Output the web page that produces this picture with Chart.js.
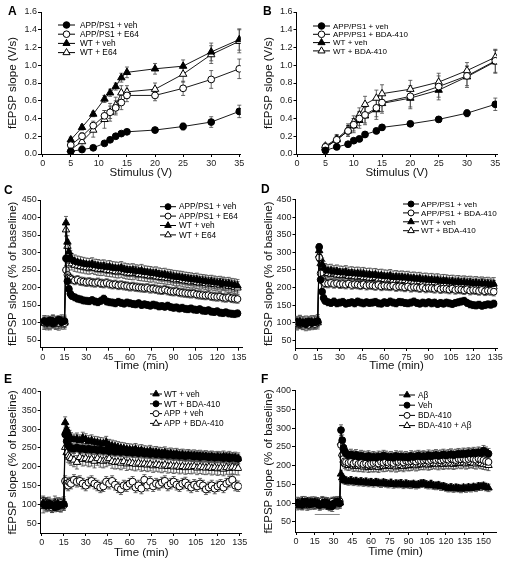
<!DOCTYPE html>
<html><head><meta charset="utf-8">
<script src="https://cdn.jsdelivr.net/npm/chart.js@4.4.1/dist/chart.umd.min.js"></script>
<style>
body{margin:0;background:#fff;width:512px;height:562px;position:relative;overflow:hidden;font-family:"Liberation Sans",Arial,sans-serif}
canvas{position:absolute}
.lt{position:absolute;font:bold 12px "Liberation Sans",Arial,sans-serif;line-height:12px;color:#000}
</style></head><body>
<canvas id="cA" width="256" height="180" style="left:0px;top:0px"></canvas>
<canvas id="cB" width="256" height="180" style="left:256px;top:0px"></canvas>
<canvas id="cC" width="256" height="193" style="left:0px;top:180px"></canvas>
<canvas id="cD" width="256" height="193" style="left:256px;top:180px"></canvas>
<canvas id="cE" width="256" height="189" style="left:0px;top:373px"></canvas>
<canvas id="cF" width="256" height="189" style="left:256px;top:373px"></canvas>
<div class="lt" style="left:8px;top:5px">A</div>
<div class="lt" style="left:263px;top:5px">B</div>
<div class="lt" style="left:4px;top:184px">C</div>
<div class="lt" style="left:261px;top:183px">D</div>
<div class="lt" style="left:4px;top:373px">E</div>
<div class="lt" style="left:261px;top:373px">F</div>
<script>
// ---------- Panels A & B : input/output ----------
const stimA = [5,7,9,11,12,13,14,15,20,25,30,35];
const A_appVeh = [0.03,0.05,0.07,0.12,0.16,0.20,0.23,0.25,0.27,0.31,0.36,0.48];
const A_appE64 = [0.10,0.20,0.32,0.43,0.47,0.52,0.58,0.66,0.66,0.74,0.84,0.96];
const A_wtVeh  = [0.16,0.30,0.45,0.62,0.69,0.76,0.86,0.92,0.96,0.99,1.15,1.29];
const A_wtE64  = [0.05,0.14,0.27,0.39,0.47,0.55,0.69,0.70,0.73,0.90,1.12,1.27];
const A_appVehErr = [0.01,0.01,0.02,0.02,0.02,0.02,0.02,0.02,0.03,0.04,0.06,0.07];
const A_appE64Err = [0.03,0.04,0.05,0.06,0.07,0.08,0.08,0.07,0.06,0.08,0.10,0.11];
const A_wtVehErr  = [0.03,0.03,0.03,0.04,0.04,0.04,0.05,0.06,0.06,0.07,0.10,0.12];
const A_wtE64Err  = [0.04,0.05,0.08,0.10,0.10,0.09,0.08,0.07,0.07,0.09,0.10,0.13];

const stimB = [5,7,9,10,11,12,14,15,20,25,30,35];
const B_appVeh = [0.04,0.08,0.11,0.15,0.17,0.22,0.26,0.30,0.34,0.39,0.46,0.56];
const B_appBDA = [0.08,0.16,0.26,0.33,0.40,0.44,0.52,0.58,0.65,0.76,0.88,1.05];
const B_wtVeh  = [0.07,0.16,0.26,0.32,0.38,0.43,0.50,0.57,0.63,0.72,0.87,1.04];
const B_wtBDA  = [0.09,0.17,0.28,0.36,0.44,0.56,0.63,0.68,0.73,0.81,0.94,1.09];
const B_appVehErr = [0.02,0.02,0.02,0.02,0.03,0.03,0.03,0.03,0.03,0.03,0.04,0.07];
const B_appBDAErr = [0.03,0.04,0.06,0.07,0.08,0.09,0.10,0.10,0.12,0.12,0.11,0.13];
const B_wtVehErr  = [0.03,0.05,0.06,0.08,0.09,0.10,0.11,0.11,0.12,0.11,0.12,0.13];
const B_wtBDAErr  = [0.03,0.05,0.06,0.07,0.08,0.09,0.09,0.10,0.10,0.10,0.09,0.08];

const xTicksAB = [0,5,10,15,20,25,30,35];
const yTicksAB = [0,0.2,0.4,0.6,0.8,1.0,1.2,1.4,1.6];

// ---------- Panels C, D, E : LTP time course (min) ----------
const timeCDE = [1,3,5,7,9,11,13,15,16,17,18,19,20,22,24,26,28,30,32,34,36,38,40,42,44,46,48,50,52,54,56,58,60,62,64,66,68,70,72,74,76,78,80,82,84,86,88,90,92,94,96,98,100,102,104,106,108,110,112,114,116,118,120,122,124,126,128,130,132,134];

const C_appVeh = [104,100,106,98,103,108,101,104, 283,218,196,182,176,
 172,168,166,163,162, 161,164,160,158,162, 168,160,158,157,155, 159,156,154,157,155,
 153,152,155,150,152, 150,148,151,149,146, 147,145,148,144,142, 143,140,142,139,138,
 140,137,136,138,134, 133,135,131,130,132, 128,127,129,126,125, 124,126];
const C_appE64 = [100,98,102,97,100,99,103,98, 250,236,229,226,223,
 220,222,218,217,215, 216,214,213,215,212, 211,213,210,208,209, 206,207,205,204,202,
 203,201,200,199,198, 199,196,197,195,193, 192,194,191,189,188, 189,186,185,184,183,
 182,183,180,179,178, 177,178,175,174,173, 174,171,170,172,169, 168,167];
const C_wtVeh = [98,101,97,102,100,96,104,99, 385,330,302,288,279,
 275,272,270,268,266, 265,267,263,262,260, 261,258,259,256,255, 254,256,252,250,249,
 250,247,246,248,244, 243,242,240,241,238, 236,237,234,233,231, 230,229,228,226,225,
 224,222,223,220,219, 218,216,217,215,213, 214,212,210,211,208, 207,205];
const C_wtE64 = [102,97,100,104,98,101,99,103, 365,318,292,276,268,
 264,262,260,259,257, 256,258,255,253,252, 253,250,249,248,246, 245,247,244,242,241,
 240,242,238,237,236, 235,233,234,231,230, 229,228,226,227,224, 222,223,220,219,218,
 216,217,215,213,214, 212,210,211,209,208, 207,209,205,204,203, 201,199];
const C_sem = [10,12,18,18];

const D_appVeh = [102,98,100,96,103,99,101,104, 315,222,188,170,162,
 158,156,160,155,157, 159,154,156,158,155, 160,157,155,158,156, 157,159,155,154,158,
 156,160,157,155,159, 158,156,155,157,160, 156,154,157,155,158, 155,157,153,156,154,
 157,155,153,156,158, 160,162,156,152,150, 149,151,148,150,152, 151,154];
const D_appBDA = [98,95,100,97,94,99,96,101, 285,240,224,216,212,
 211,213,210,212,209, 210,208,211,207,209, 208,206,209,205,207, 206,204,207,203,205,
 204,203,205,201,203, 202,200,203,199,201, 200,198,201,197,199, 198,196,199,195,197,
 196,194,197,193,195, 194,192,195,191,193, 192,190,193,189,191, 190,188];
const D_wtVeh = [100,103,98,101,97,102,99,105, 305,282,266,256,250,
 247,248,244,246,243, 242,244,240,241,239, 240,238,239,236,237, 235,236,233,234,232,
 231,233,229,230,228, 229,227,228,225,226, 224,225,222,223,221, 222,220,221,218,219,
 218,216,217,215,216, 214,215,213,214,212, 213,211,212,210,211, 209,210];
const D_wtBDA = [97,101,99,95,100,98,102,100, 292,268,255,247,243,
 240,238,239,236,235, 234,236,232,233,231, 230,232,228,229,227, 226,228,224,225,223,
 222,224,221,220,222, 219,220,217,218,216, 215,217,214,215,213, 212,214,211,212,210,
 211,209,210,208,209, 207,209,206,208,205, 206,204,207,205,203, 204,202];
const D_sem = [10,12,18,18];

const E_wtVeh = [104,100,97,94,99,102,96,100, 318,300,290,282,276,
 272,275,270,277,273, 268,270,266,265,263, 262,266,258,256,254, 252,250,249,247,246,
 245,247,243,244,241, 240,242,238,239,237, 236,238,234,235,233, 234,231,232,230,231,
 229,230,228,229,227, 228,226,227,225,226, 225,227,224,226,223, 224,222];
const E_wtBDA = [100,96,102,98,92,95,99,101, 286,268,258,252,250,
 248,251,247,249,246, 248,245,247,244,246, 243,245,241,243,240, 242,239,241,238,240,
 237,239,236,238,235, 237,234,236,233,235, 232,234,231,233,230, 232,229,231,228,230,
 229,227,229,226,228, 227,225,227,224,226, 225,223,226,222,224, 223,221];
const E_appVeh = [108,104,97,92,100,95,103,98, 162,155,150,158,155,
 165,160,162,155,150, 158,162,155,150,145, 148,160,155,162,152, 145,140,150,148,155,
 160,145,150,142,165, 150,160,148,155,152, 158,162,150,155,160, 152,148,155,158,150,
 145,152,148,155,150, 140,145,150,142,148, 152,145,155,160,165, 150,148];
const E_appBDA = [95,98,101,96,104,99,97,102, 252,238,230,226,222,
 218,212,225,220,222, 218,220,215,222,217, 215,218,222,214,212, 213,210,214,208,211,
 209,207,210,206,208, 205,207,203,206,204, 202,205,201,203,200, 202,199,201,198,200,
 199,201,197,200,198, 197,199,196,198,195, 197,194,198,196,199, 197,196];
const E_sem = [15,12,14,18];

const xTicksCDE = [0,15,30,45,60,75,90,105,120,135];
const yTicksCD = [50,100,150,200,250,300,350,400,450];
const yTicksEF = [50,100,150,200,250,300,350,400];

// ---------- Panel F ----------
const timeF = [1,3,5,7,9,11,13,15,17,19,21,23,25,27,29,31,33,35,36,37,38,39,40,42,44,46,48,50,52,54,56,58,60,62,64,66,68,70,72,74,76,78,80,82,84,86,88,90,92,94,96,98,100,102,104,106,108,110,112,114,116,118,120,122,124,126,128,130,132,134,136,138,140,142,144,146,148,150,152,154];
const F_abeta = [100,95,103,98,104,100,97,102,99,96,101,98,94,90,97,100,103,101, 178,168,163,161,160,
 158,161,157,159,156, 158,155,157,154,156, 153,156,154,152,155, 153,151,154,150,152,
 151,153,149,152,150, 149,151,148,150,152, 153,150,148,151,147, 146,148,144,145,142,
 140,142,139,141,140, 138,141,139,142,140, 143,141,145,144,146, 143,141];
const F_veh = [102,98,96,104,100,97,103,99,101,95,98,102,100,97,92,101,104,100, 295,268,248,238,232,
 228,230,226,229,224, 227,225,223,226,222, 224,221,225,223,227, 225,222,224,221,226,
 223,225,222,224,221, 226,223,225,227,224, 226,224,228,225,227, 229,226,228,230,227,
 229,231,228,230,232, 230,233,231,234,232, 235,233,236,234,240, 236,232];
const F_bda = [98,102,95,100,97,104,101,96,103,99,106,101,97,100,104,98,102,105, 255,228,218,212,210,
 208,210,206,209,205, 207,204,206,203,205, 207,209,206,210,208, 211,208,210,207,212,
 210,212,209,213,211, 212,214,211,215,213, 214,216,213,215,217, 215,217,214,216,218,
 216,219,217,215,218, 217,219,216,218,220, 218,216,219,217,215, 212,210];
const F_bdaAbeta = [96,100,104,99,95,101,98,103,100,97,102,99,101,96,100,103,98,102, 262,232,215,207,203,
 201,203,199,200,198, 199,197,200,196,198, 197,199,196,200,198, 199,201,198,200,197,
 199,201,198,202,200, 201,203,200,202,204, 203,205,202,204,206, 205,203,206,204,207,
 205,207,204,206,208, 206,208,205,207,209, 207,205,208,206,204, 203,201];
const F_sem = [10,14,12,14];
const F_drugX = [15,35];
const F_drugY = [70,70];
const xTicksF = [0,15,30,45,60,75,90,105,120,135,150];

// ---------- helpers ----------
const FONT = '"Liberation Sans", Arial, sans-serif';
const xy = (xs, ys) => xs.map((x, i) => ({x: x, y: ys[i]}));

function series(label, xs, ys, kind, err, r) {
  const filled = kind[0] === 'f';
  const shape = kind[1] === 'c' ? 'circle' : 'triangle';
  return {
    label, data: xy(xs, ys), err,
    borderColor: '#000', borderWidth: 0.9,
    backgroundColor: filled ? '#000' : '#fff',
    pointBackgroundColor: filled ? '#000' : '#fff',
    pointBorderColor: '#000', pointBorderWidth: 1,
    pointStyle: shape, pointRadius: shape === 'triangle' ? r + 0.9 : r,
    tension: 0, fill: false
  };
}

const errPlugin = {
  id: 'errbars',
  beforeDatasetsDraw(chart) {
    const ctx = chart.ctx, ys = chart.scales.y;
    ctx.save();
    ctx.strokeStyle = '#444'; ctx.lineWidth = 0.8;
    chart.data.datasets.forEach((ds, i) => {
      if (ds.err === undefined) return;
      const meta = chart.getDatasetMeta(i);
      meta.data.forEach((pt, j) => {
        const v = ds.data[j].y;
        const e = Array.isArray(ds.err) ? ds.err[j] : ds.err;
        const y1 = ys.getPixelForValue(v + e), y2 = ys.getPixelForValue(v - e);
        ctx.beginPath();
        ctx.moveTo(pt.x, y1); ctx.lineTo(pt.x, y2);
        ctx.moveTo(pt.x - 2, y1); ctx.lineTo(pt.x + 2, y1);
        ctx.moveTo(pt.x - 2, y2); ctx.lineTo(pt.x + 2, y2);
        ctx.stroke();
      });
    });
    ctx.restore();
  }
};

function legendPlugin(L) {
  return {
    id: 'lgd',
    afterDraw(chart) {
      const ctx = chart.ctx;
      ctx.save();
      let k = 0;
      chart.data.datasets.forEach(ds => {
        if (!ds.label) return;
        const y = L.y + k * L.dy; k++;
        ctx.strokeStyle = '#000'; ctx.lineWidth = 1;
        ctx.beginPath(); ctx.moveTo(L.x0, y); ctx.lineTo(L.x1, y); ctx.stroke();
        ctx.fillStyle = ds.pointBackgroundColor; ctx.strokeStyle = '#000';
        Chart.helpers.drawPoint(ctx, {pointStyle: ds.pointStyle, rotation: 0,
          radius: ds.pointStyle === 'triangle' ? L.r + 0.8 : L.r, borderWidth: 1},
          (L.x0 + L.x1) / 2, y);
        ctx.fillStyle = '#000';
        ctx.font = L.fs + 'px ' + FONT;
        ctx.textBaseline = 'middle'; ctx.textAlign = 'left';
        ctx.fillText(ds.label, L.tx, y + 0.5);
      });
      ctx.restore();
    }
  };
}

function makePanel(id, P) {
  const axisCommon = {
    type: 'linear',
    grid: {drawOnChartArea: false, drawTicks: true, tickLength: 3, color: '#000', lineWidth: 1},
    border: {display: true, color: '#000', width: 1},
  };
  new Chart(document.getElementById(id), {
    type: 'line',
    data: {datasets: P.datasets},
    options: {
      responsive: false, animation: false, devicePixelRatio: 1,
      events: [],
      layout: {padding: {left: 0, top: P.padT, right: P.padR, bottom: 0}},
      plugins: {legend: {display: false}, tooltip: {enabled: false}},
      scales: {
        x: Object.assign({}, axisCommon, {
          min: P.xMin, max: P.xMax,
          afterFit: s => { s.height = P.xH; },
          afterBuildTicks: s => { s.ticks = P.xTicks.map(v => ({value: v})); },
          ticks: {autoSkip: false, maxRotation: 0, minRotation: 0, padding: 1, color: '#222',
                  font: {size: 9, family: FONT}},
          title: {display: true, text: P.xTitle, color: '#111', font: {size: 11.5, family: FONT},
                  padding: {top: 0, bottom: P.xTitlePad}}
        }),
        y: Object.assign({}, axisCommon, {
          min: P.yMin, max: P.yMax,
          afterFit: s => { s.width = P.yW; },
          afterBuildTicks: s => { s.ticks = P.yTicks.map(v => ({value: v})); },
          ticks: {autoSkip: false, padding: 1, color: '#222', font: {size: 9, family: FONT},
                  callback: P.yFmt || (v => String(v))},
          title: {display: true, text: P.yTitle, color: '#111', font: {size: 11.5, family: FONT},
                  padding: {top: 6, bottom: 0}}
        })
      }
    },
    plugins: [errPlugin, legendPlugin(P.legend)]
  });
}

// ---------- Panel A ----------
makePanel('cA', {
  datasets: [
    series('APP/PS1 + veh', stimA, A_appVeh, 'fc', A_appVehErr, 3.4),
    series('APP/PS1 + E64', stimA, A_appE64, 'oc', A_appE64Err, 3.4),
    series('WT + veh', stimA, A_wtVeh, 'ft', A_wtVehErr, 3.4),
    series('WT + E64', stimA, A_wtE64, 'ot', A_wtE64Err, 3.4)
  ],
  padT: 12, padR: 15.3, yW: 41, xH: 26,
  xMin: -0.3, xMax: 35.25, yMin: 0, yMax: 1.6,
  xTicks: xTicksAB, yTicks: yTicksAB, yFmt: v => v.toFixed(1),
  xTitle: 'Stimulus (V)', yTitle: 'fEPSP slope (V/s)', xTitlePad: 0.4,
  legend: {x0: 58, x1: 75, tx: 80, y: 25, dy: 9.2, r: 3.3, fs: 8.3}
});

// ---------- Panel B ----------
makePanel('cB', {
  datasets: [
    series('APP/PS1 + veh', stimB, B_appVeh, 'fc', B_appVehErr, 3.4),
    series('APP/PS1 + BDA-410', stimB, B_appBDA, 'oc', B_appBDAErr, 3.4),
    series('WT + veh', stimB, B_wtVeh, 'ft', B_wtVehErr, 3.4),
    series('WT + BDA-410', stimB, B_wtBDA, 'ot', B_wtBDAErr, 3.4)
  ],
  padT: 12, padR: 15, yW: 40.5, xH: 26,
  xMin: -0.1, xMax: 35.3, yMin: 0, yMax: 1.6,
  xTicks: xTicksAB, yTicks: yTicksAB, yFmt: v => v.toFixed(1),
  xTitle: 'Stimulus (V)', yTitle: 'fEPSP slope (V/s)', xTitlePad: 0.4,
  legend: {x0: 57, x1: 74, tx: 77, y: 26, dy: 8.3, r: 3.3, fs: 8}
});

// ---------- Panel C ----------
makePanel('cC', {
  datasets: [
    series('APP/PS1 + veh', timeCDE, C_appVeh, 'fc', C_sem[0], 3.4),
    series('APP/PS1 + E64', timeCDE, C_appE64, 'oc', C_sem[1], 3.4),
    series('WT + veh', timeCDE, C_wtVeh, 'ft', C_sem[2], 3.4),
    series('WT + E64', timeCDE, C_wtE64, 'ot', C_sem[3], 3.4)
  ],
  padT: 20, padR: 14, yW: 40.7, xH: 25.3,
  xMin: -1.4, xMax: 137.1, yMin: 28, yMax: 450,
  xTicks: xTicksCDE, yTicks: yTicksCD,
  xTitle: 'Time (min)', yTitle: 'fEPSP slope (% of baseline)', xTitlePad: 0,
  legend: {x0: 160, x1: 176, tx: 179, y: 26.7, dy: 9.4, r: 3, fs: 8.3}
});

// ---------- Panel D ----------
makePanel('cD', {
  datasets: [
    series('APP/PS1 + veh', timeCDE, D_appVeh, 'fc', D_sem[0], 3.4),
    series('APP/PS1 + BDA-410', timeCDE, D_appBDA, 'oc', D_sem[1], 3.4),
    series('WT + veh', timeCDE, D_wtVeh, 'ft', D_sem[2], 3.4),
    series('WT + BDA-410', timeCDE, D_wtBDA, 'ot', D_sem[3], 3.4)
  ],
  padT: 19.5, padR: 14.5, yW: 39.5, xH: 25,
  xMin: 0, xMax: 136.5, yMin: 28, yMax: 450,
  xTicks: xTicksCDE, yTicks: yTicksCD,
  xTitle: 'Time (min)', yTitle: 'fEPSP slope (% of baseline)', xTitlePad: 0,
  legend: {x0: 147, x1: 163, tx: 165, y: 24, dy: 8.9, r: 3, fs: 8.1}
});

// ---------- Panel E ----------
makePanel('cE', {
  datasets: [
    series('WT + veh', timeCDE, E_wtVeh, 'ft', E_sem[0], 3.4),
    series('WT + BDA-410', timeCDE, E_wtBDA, 'fc', E_sem[1], 3.4),
    series('APP + veh', timeCDE, E_appVeh, 'oc', E_sem[2], 3.6),
    series('APP + BDA-410', timeCDE, E_appBDA, 'ot', E_sem[3], 3.4)
  ],
  padT: 18.7, padR: 14.3, yW: 40.7, xH: 29,
  xMin: -0.7, xMax: 136.4, yMin: 23.5, yMax: 400,
  xTicks: xTicksCDE, yTicks: yTicksEF,
  xTitle: 'Time (min)', yTitle: 'fEPSP slope (% of baseline)', xTitlePad: 2.7,
  legend: {x0: 150, x1: 162, tx: 164, y: 21, dy: 9.8, r: 3, fs: 8.3}
});

// ---------- Panel F ----------
const drug = {data: xy(F_drugX, F_drugY), borderColor: '#888', borderWidth: 1, pointRadius: 0, fill: false};
makePanel('cF', {
  datasets: [
    series('A\u03B2', timeF, F_abeta, 'ft', F_sem[0], 3.4),
    series('Veh', timeF, F_veh, 'fc', F_sem[1], 3.4),
    series('BDA-410', timeF, F_bda, 'oc', F_sem[2], 3.4),
    series('BDA-410 + A\u03B2', timeF, F_bdaAbeta, 'ot', F_sem[3], 3.4),
    drug
  ],
  padT: 17.7, padR: 16, yW: 39, xH: 30,
  xMin: -0.8, xMax: 160, yMin: 23.3, yMax: 400,
  xTicks: xTicksF, yTicks: yTicksEF,
  xTitle: 'Time (min)', yTitle: 'fEPSP slope (% of baseline)', xTitlePad: 3.7,
  legend: {x0: 143, x1: 159, tx: 162, y: 22, dy: 10.2, r: 3, fs: 8.3}
});
</script>
</body></html>
